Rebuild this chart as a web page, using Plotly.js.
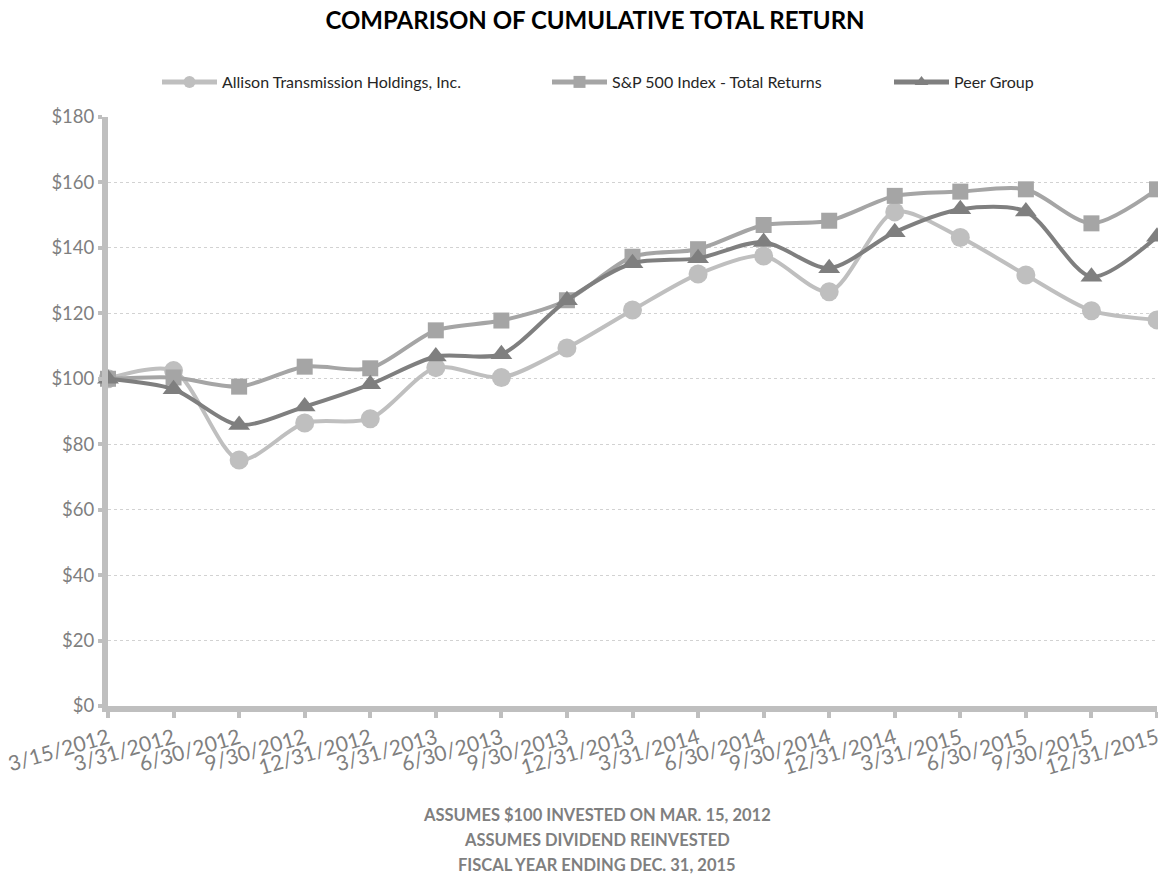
<!DOCTYPE html>
<html>
<head>
<meta charset="utf-8">
<script src="https://cdn.plot.ly/plotly-3.0.1.min.js"></script>
<style>html,body{margin:0;padding:0;background:#fff;}#chart{width:1158px;height:876px;}</style>
</head>
<body>
<div id="chart"></div>
<script>
const dates = ['3/15/2012','3/31/2012','6/30/2012','9/30/2012','12/31/2012','3/31/2013','6/30/2013','9/30/2013','12/31/2013','3/31/2014','6/30/2014','9/30/2014','12/31/2014','3/31/2015','6/30/2015','9/30/2015','12/31/2015'];
const allison = [100, 102.5, 75.2, 86.5, 87.8, 103.4, 100.4, 109.4, 121.0, 132.0, 137.5, 126.6, 151.0, 143.2, 131.7, 120.8, 118.0];
const sp500 = [100, 100.4, 97.6, 103.7, 103.2, 114.8, 117.8, 124.0, 137.3, 139.6, 147.0, 148.3, 155.9, 157.2, 157.9, 147.5, 157.9];
const peer = [100, 96.8, 85.9, 91.5, 98.3, 106.8, 107.5, 124.0, 135.3, 136.8, 141.8, 133.8, 144.8, 151.8, 151.1, 131.2, 143.4];
const seriesNames = ['Allison Transmission Holdings, Inc.', 'S&P 500 Index - Total Returns', 'Peer Group'];
const yTicks = [0, 20, 40, 60, 80, 100, 120, 140, 160, 180];
const yTickText = ['$0','$20','$40','$60','$80','$100','$120','$140','$160','$180'];
const notes = ['ASSUMES $100 INVESTED ON MAR. 15, 2012', 'ASSUMES DIVIDEND REINVESTED', 'FISCAL YEAR ENDING DEC. 31, 2015'];

const FONT = 'Lato, "Open Sans", sans-serif';
const traces = [
  {x: dates, y: allison, name: seriesNames[0], type: 'scatter', mode: 'lines+markers', legend: 'legend', showlegend: true,
   line: {color: '#BFBFBF', width: 4, shape: 'spline', smoothing: 0.8},
   marker: {symbol: 'circle', size: 19, color: '#BFBFBF'}, cliponaxis: false},
  {x: dates, y: sp500, name: seriesNames[1], type: 'scatter', mode: 'lines+markers', legend: 'legend2', showlegend: true,
   line: {color: '#A5A5A5', width: 4, shape: 'spline', smoothing: 0.8},
   marker: {symbol: 'square', size: 16, color: '#A5A5A5'}, cliponaxis: false},
  {x: dates, y: peer, name: seriesNames[2], type: 'scatter', mode: 'lines+markers', legend: 'legend3', showlegend: true,
   line: {color: '#7F7F7F', width: 4, shape: 'spline', smoothing: 0.8},
   marker: {symbol: 'triangle-up', size: 19, color: '#7F7F7F'}, cliponaxis: false}
];

const legendBase = {orientation: 'h', xref: 'container', yref: 'container', y: 1 - 82/876, yanchor: 'middle',
  xanchor: 'left', itemwidth: 55, itemsizing: 'constant', bgcolor: 'rgba(0,0,0,0)', visible: true,
  font: {family: FONT, size: 16, color: '#262626'}};

const layout = {
  width: 1158, height: 876,
  showlegend: true,
  margin: {l: 108, r: 1, t: 117, b: 170},
  paper_bgcolor: '#fff', plot_bgcolor: '#fff',
  font: {family: FONT},
  title: {text: '<b>COMPARISON OF CUMULATIVE TOTAL RETURN</b>', xref: 'container', x: 595/1158, xanchor: 'center',
          yref: 'container', y: 1 - 21/876, yanchor: 'middle', font: {family: FONT, size: 24, color: '#000'}},
  xaxis: {type: 'category', range: [0, dates.length - 1], showgrid: false, zeroline: false,
          showline: true, linecolor: '#BFBFBF', linewidth: 6,
          ticks: 'outside', ticklen: 6, tickwidth: 4, tickcolor: '#BFBFBF',
          tickangle: -16, tickfont: {family: FONT, size: 21, color: '#7F7F7F'}},
  yaxis: {range: [0, 180], tickvals: yTicks, ticktext: yTickText, showgrid: true, gridcolor: '#D2D2D2',
          griddash: 'dot', gridwidth: 1, zeroline: false, showline: true, linecolor: '#BFBFBF', linewidth: 6,
          ticks: 'outside', ticklen: 4, tickwidth: 4, tickcolor: '#BFBFBF',
          tickfont: {family: FONT, size: 18.5, color: '#7F7F7F'}},
  legend: Object.assign({}, legendBase, {x: 157/1158}),
  legend2: Object.assign({}, legendBase, {x: 547/1158}),
  legend3: Object.assign({}, legendBase, {x: 889/1158}),
  annotations: notes.map((t, i) => ({text: '<b>' + t + '</b>', xref: 'paper', yref: 'paper',
     x: (597 - 108)/1049, y: (706 - (815 + 25*i))/589, xanchor: 'center', yanchor: 'middle', showarrow: false,
     font: {family: FONT, size: 16.5, color: '#7F7F7F'}}))
};

Plotly.newPlot('chart', traces, layout, {displayModeBar: false, staticPlot: true});
</script>
</body>
</html>
